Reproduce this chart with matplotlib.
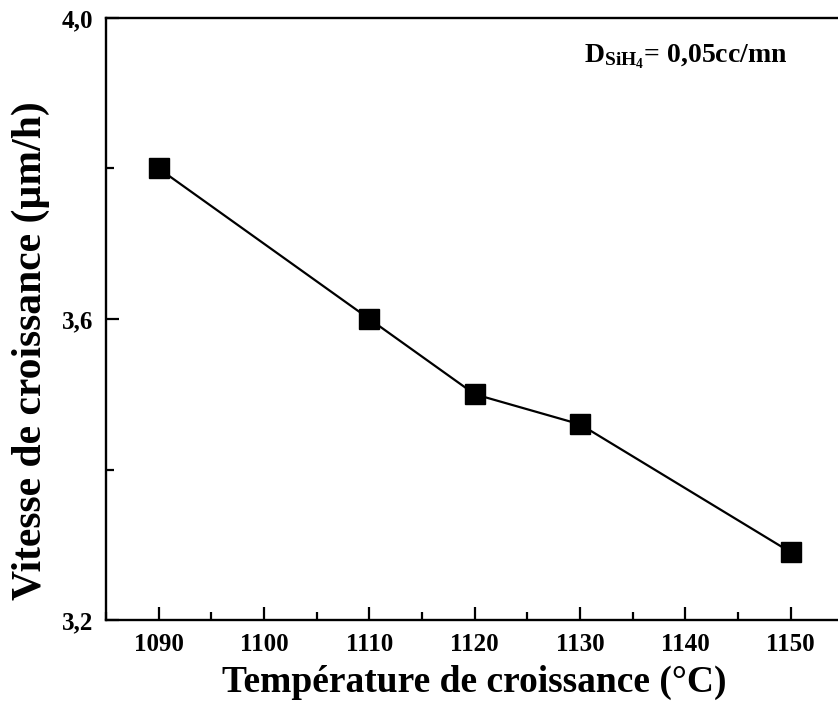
import matplotlib
matplotlib.use('Agg')
import matplotlib.pyplot as plt
from matplotlib.ticker import MultipleLocator, FuncFormatter

plt.rcParams['font.family'] = 'Liberation Serif'
plt.rcParams['font.weight'] = 'bold'
plt.rcParams['mathtext.fontset'] = 'custom'
plt.rcParams['mathtext.rm'] = 'Liberation Serif:bold'
plt.rcParams['mathtext.it'] = 'Liberation Serif:bold'
plt.rcParams['mathtext.bf'] = 'Liberation Serif:bold'

# growth temperature (°C) and growth rate (µm/h)
temperature = [1090, 1110, 1120, 1130, 1150]
vitesse = [3.80, 3.60, 3.50, 3.46, 3.29]

fig = plt.figure(figsize=(8.38, 7.13), dpi=100)
ax = fig.add_axes([0.1265, 0.1304, 0.88, 0.8444])

ax.plot(temperature, vitesse, color='black', linewidth=1.6,
        marker='s', markersize=15, markerfacecolor='black', markeredgecolor='black')

ax.set_xlim(1085, 1155)
ax.set_ylim(3.2, 4.0)

ax.xaxis.set_major_locator(MultipleLocator(10))
ax.xaxis.set_minor_locator(MultipleLocator(5))
ax.yaxis.set_major_locator(MultipleLocator(0.4))
ax.yaxis.set_minor_locator(MultipleLocator(0.2))
ax.yaxis.set_major_formatter(FuncFormatter(lambda v, p: '{:.1f}'.format(v).replace('.', ',')))

ax.tick_params(which='both', direction='in', width=1.6, labelsize=18)
ax.tick_params(which='major', length=9.5, pad=9)
ax.tick_params(which='minor', length=5.5)
for s in ax.spines.values():
    s.set_linewidth(1.7)

ax.set_xlabel('Température de croissance (°C)', fontsize=27, fontweight='bold', labelpad=7)
ax.set_ylabel('Vitesse de croissance (µm/h)', fontsize=30, fontweight='bold')
ax.yaxis.set_label_coords(-0.076, 0.447)

ax.text(0.648, 0.96, r'$\mathrm{D_{SiH_4}}$= 0,05cc/mn', transform=ax.transAxes,
        fontsize=20, fontweight='bold', va='top', ha='left')

fig.savefig('out.png', dpi=100)
